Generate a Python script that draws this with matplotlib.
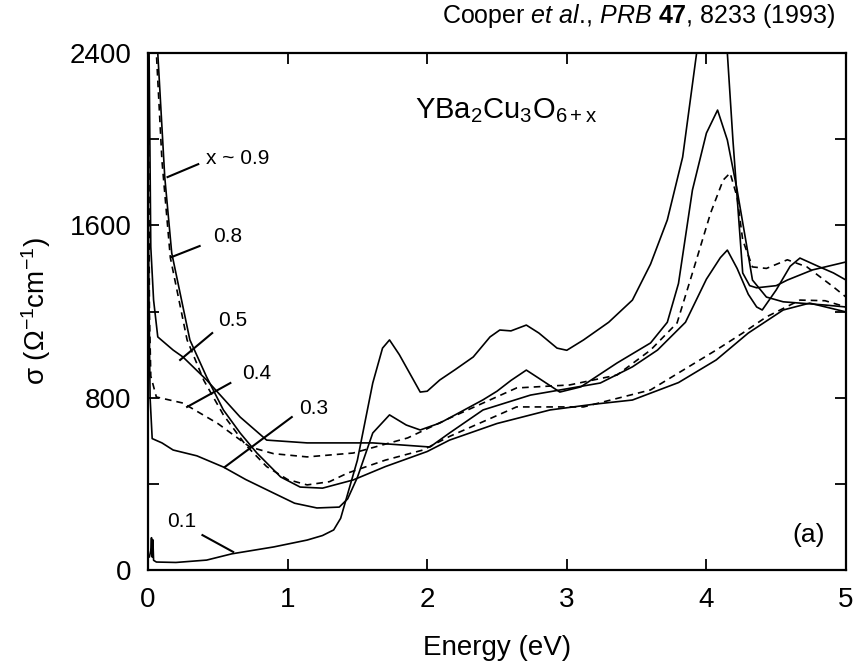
import numpy as np
import matplotlib
matplotlib.use("Agg")
import matplotlib.pyplot as plt

plt.rcParams['font.family'] = ['Liberation Sans', 'DejaVu Sans']
plt.rcParams['mathtext.fontset'] = 'custom'
plt.rcParams['mathtext.rm'] = 'Liberation Sans'
plt.rcParams['mathtext.it'] = 'Liberation Sans:italic'
plt.rcParams['mathtext.bf'] = 'Liberation Sans:bold'

# ---- data (energy in eV, sigma in 1/(Ohm cm)) ----
e_x01 = [0.01, 0.02, 0.025, 0.03, 0.035, 0.04, 0.06, 0.2, 0.42, 0.6, 0.9, 1.14, 1.25, 1.33,
         1.38, 1.42, 1.5, 1.61, 1.68, 1.73, 1.8, 1.85, 1.95, 2.0, 2.09, 2.2, 2.33, 2.45, 2.52,
         2.6, 2.71, 2.8, 2.93, 3.0, 3.12, 3.3, 3.47, 3.6, 3.72, 3.83, 3.93, 4.0, 4.1, 4.15,
         4.19, 4.26, 4.31, 4.36, 4.5, 4.58, 4.76, 5.0]
s_x01 = [60, 90, 150, 60, 140, 45, 37, 35, 46, 75, 107, 139, 160, 186,
         240, 330, 510, 868, 1030, 1068, 1000, 942, 826, 830, 882, 930, 989, 1082, 1114,
         1110, 1137, 1100, 1030, 1020, 1068, 1150, 1253, 1420, 1625, 1917, 2400, 2700, 2700, 2400,
         1996, 1379, 1320, 1310, 1320, 1346, 1393, 1430]

e_x03 = [0.003, 0.008, 0.015, 0.03, 0.1, 0.18, 0.35, 0.54, 0.7, 0.9, 1.05, 1.21, 1.37, 1.43,
         1.5, 1.61, 1.73, 1.85, 1.95, 2.09, 2.2, 2.4, 2.5, 2.6, 2.71, 2.8, 2.95, 3.1, 3.36,
         3.6, 3.72, 3.8, 3.9, 4.0, 4.08, 4.15, 4.22, 4.29, 4.33, 4.43, 4.55, 4.67, 4.85, 5.0]
s_x03 = [1600, 1200, 800, 610, 590, 557, 530, 478, 420, 357, 310, 288, 292, 330,
         430, 636, 720, 673, 650, 682, 720, 790, 830, 880, 928, 890, 826, 850, 961,
         1054, 1150, 1330, 1764, 2028, 2135, 1996, 1764, 1500, 1346, 1267, 1245, 1239, 1230, 1221]

e_x04 = [0.003, 0.01, 0.02, 0.06, 0.25, 0.5, 0.73, 0.9, 1.14, 1.47, 1.86, 2.16, 2.64, 3.02,
         3.36, 3.6, 3.79, 3.9, 4.03, 4.12, 4.17, 4.22, 4.26, 4.33, 4.43, 4.58, 4.72, 4.91, 5.0]
s_x04 = [2600, 1200, 900, 803, 775, 680, 571, 540, 525, 543, 613, 705, 845, 859,
         905, 1021, 1147, 1379, 1657, 1810, 1843, 1731, 1532, 1407, 1400, 1440, 1407, 1314, 1267]

e_x05 = [0.005, 0.02, 0.04, 0.07, 0.18, 0.25, 0.42, 0.66, 0.85, 1.14, 1.61, 2.02, 2.16, 2.4,
         2.74, 3.24, 3.47, 3.65, 3.85, 4.0, 4.1, 4.15, 4.22, 4.3, 4.36, 4.4, 4.5, 4.6, 4.67,
         4.8, 4.91, 5.0]
s_x05 = [2600, 1500, 1253, 1082, 1021, 989, 882, 710, 603, 590, 590, 571, 636, 743,
         812, 868, 943, 1021, 1150, 1350, 1450, 1485, 1400, 1280, 1221, 1207, 1300, 1410, 1448,
         1410, 1379, 1346]

e_x08 = [0.03, 0.06, 0.1, 0.16, 0.28, 0.4, 0.54, 0.7, 0.85, 1.0, 1.14, 1.3, 1.43, 1.7, 1.97,
         2.16, 2.64, 3.12, 3.6, 4.07, 4.26, 4.43, 4.67, 4.85, 5.0]
s_x08 = [3000, 2400, 1900, 1450, 1068, 880, 720, 580, 480, 420, 395, 410, 450, 510, 557,
         620, 757, 757, 836, 1021, 1100, 1175, 1253, 1250, 1221]

e_x09 = [0.04, 0.07, 0.12, 0.17, 0.3, 0.42, 0.54, 0.66, 0.78, 0.95, 1.09, 1.25, 1.47, 1.7, 2.0,
         2.16, 2.5, 2.88, 3.2, 3.47, 3.8, 4.07, 4.3, 4.55, 4.74, 5.0]
s_x09 = [3000, 2400, 1824, 1471, 1068, 896, 743, 636, 543, 432, 385, 380, 418, 480, 550,
         603, 680, 743, 770, 789, 870, 975, 1100, 1207, 1239, 1198]

series = [
    (e_x09, s_x09, '-'),
    (e_x08, s_x08, (0, (4, 3))),
    (e_x05, s_x05, '-'),
    (e_x04, s_x04, (0, (4, 3))),
    (e_x03, s_x03, '-'),
    (e_x01, s_x01, '-'),
]

curve_labels = ['x ~ 0.9', '0.8', '0.5', '0.4', '0.3', '0.1']
label_pos = [(0.64, 1912), (0.57, 1550), (0.61, 1160), (0.78, 910), (1.19, 752), (0.24, 223)]
pointer_from = [(0.36, 1884), (0.37, 1504), (0.46, 1100), (0.59, 868), (1.03, 710), (0.39, 162)]
pointer_to = [(0.14, 1824), (0.17, 1453), (0.23, 975), (0.28, 757), (0.55, 478), (0.61, 84)]

xticks = [0, 1, 2, 3, 4, 5]
yticks_major = [0, 800, 1600, 2400]
yticks_minor = [400, 1200, 2000]

W, H = 858, 667
fig = plt.figure(figsize=(W / 100, H / 100), dpi=100)
ax = fig.add_axes([148 / W, 1 - 570 / H, (846 - 148) / W, (570 - 53) / H])

for ex, sx, ls in series:
    ax.plot(ex, sx, color='black', lw=1.2, linestyle=ls, solid_capstyle='round')

for lab, lp, pf, pt in zip(curve_labels, label_pos, pointer_from, pointer_to):
    ax.text(lp[0], lp[1], lab, fontsize=15, ha='center', va='center')
    ax.plot([pf[0], pt[0]], [pf[1], pt[1]], color='black', lw=1.5)

ax.text(1.91, 2098, r'YBa$_2$Cu$_3$O$_{\mathrm{6+x}}$', fontsize=21, ha='left', va='baseline')
ax.text(4.73, 162, '(a)', fontsize=19, ha='center', va='center')

ax.set_xlim(0, 5)
ax.set_ylim(0, 2400)
ax.set_xticks(xticks)
ax.set_yticks(yticks_major)
ax.set_yticks(yticks_minor, minor=True)
ax.tick_params(which='both', direction='in', top=True, right=True, width=1.3)
ax.tick_params(which='major', length=8)
ax.tick_params(which='minor', length=8)
ax.tick_params(axis='x', labelsize=20, pad=12)
ax.tick_params(axis='y', labelsize=20, pad=12)
for sp in ax.spines.values():
    sp.set_linewidth(1.6)

ax.set_xlabel('Energy (eV)', fontsize=20, labelpad=16)
ax.set_ylabel(r'σ (Ω$^{-1}$cm$^{-1}$)', fontsize=20, labelpad=12)

fig.text(835 / W, 1 - 16 / H, r'Cooper $\mathit{et\ al.}\!$, $\mathit{PRB}$ $\mathbf{47}$, 8233 (1993)',
         fontsize=18, ha='right', va='center')

fig.savefig('out.png', dpi=100)
